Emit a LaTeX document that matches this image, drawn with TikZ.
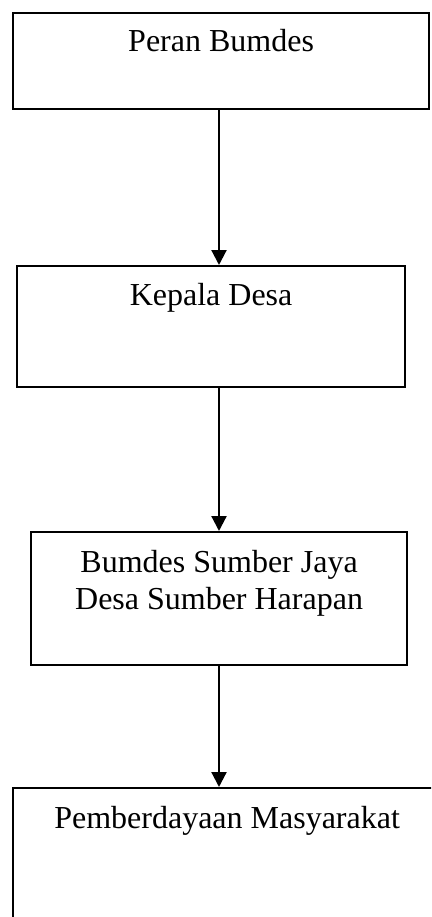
\documentclass[tikz,border=0pt]{standalone}
\usepackage{fontspec}
\setmainfont{Liberation Serif}
\usetikzlibrary{calc,arrows.meta}
\begin{document}
\begin{tikzpicture}[x=1pt,y=-1pt,
  box/.style={draw=black,line width=2.2pt,rectangle,inner sep=0pt,anchor=north west},
  lbl/.style={inner sep=0pt,anchor=base,align=center,font=\fontsize{32pt}{37pt}\selectfont},
  arr/.style={line width=2.2pt,-{Triangle[width=15pt,length=15pt]}}]
\useasboundingbox (0,0) rectangle (431,917);
\clip (0,0) rectangle (431,917);
\fill[white] (0,0) rectangle (431,917);
\node[box,minimum width=416pt,minimum height=96pt] (b1) at (12,12) {};
\node[box,minimum width=388pt,minimum height=121pt] (b2) at (16,265) {};
\node[box,minimum width=376pt,minimum height=133pt] (b3) at (30,531) {};
\node[box,minimum width=428pt,minimum height=160pt] (b4) at (12,787) {};
\node[lbl] (t1) at ($(b1.north)+(0,40)$) {Peran Bumdes};
\node[lbl] (t2) at ($(b2.north)+(0,40)$) {Kepala Desa};
\node[lbl,anchor=north] (t3) at ($(b3.north)+(0,19)$) {Bumdes Sumber Jaya\\Desa Sumber Harapan};
\node[lbl] (t4) at ($(b4.north)+(0,41)$) {Pemberdayaan Masyarakat};
\coordinate (ax) at (219,0);
\draw[arr] (b1.south -| ax) -- (b2.north -| ax);
\draw[arr] (b2.south -| ax) -- (b3.north -| ax);
\draw[arr] (b3.south -| ax) -- (b4.north -| ax);
\end{tikzpicture}
\end{document}
